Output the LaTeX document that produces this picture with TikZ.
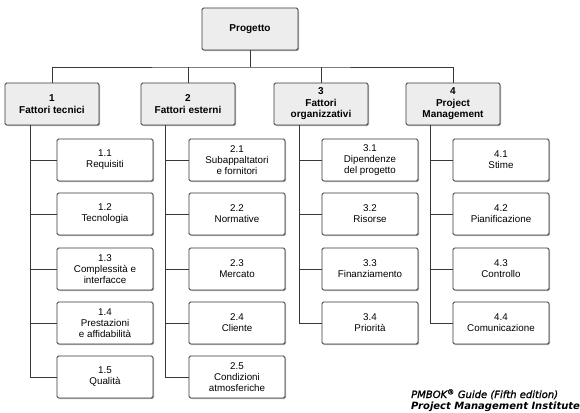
\documentclass[tikz,border=0pt]{standalone}
\usepackage{fontspec}
\setmainfont{Liberation Sans}
\newfontfamily\footfont{DejaVu Sans}
\newfontfamily\footmed[FakeBold=1.2]{DejaVu Sans}
\usetikzlibrary{shadows,calc}
\begin{document}
\begin{tikzpicture}[x=1pt,y=-1pt,
  box/.style={rectangle, rounded corners=1.6pt, draw=black!78, line width=0.9pt,
    align=center, inner sep=1pt,
    drop shadow={shadow xshift=1.1pt, shadow yshift=-1.1pt, opacity=.3, fill=black}},
  headbox/.style={box, fill=gray!14, minimum width=94pt, minimum height=42pt,
    font=\fontsize{10}{11.5}\selectfont\bfseries},
  topbox/.style={headbox, minimum width=96pt},
  leafbox/.style={box, fill=white, minimum width=96pt, minimum height=42pt,
    font=\fontsize{9.8}{11}\selectfont},
  link/.style={draw=black!78, line width=0.9pt}
]
\useasboundingbox (0,0) rectangle (580,412);

\node[topbox] (top) at (250,29) {Progetto};

\node[headbox] (p1) at (52,104) {1\\Fattori tecnici};
\node[headbox] (p2) at (188,104) {2\\Fattori esterni};
\node[headbox] (p3) at (321,104) {3\\Fattori\\organizzativi};
\node[headbox] (p4) at (453,104) {4\\Project\\Management};

\coordinate (hub) at (250,67);
\draw[link] (top.south) -- (hub);
\draw[link] (p1.north) |- (hub) -| (p4.north);
\draw[link] (p2.north) -- (p2.north |- hub);
\draw[link] (p3.north) -- (p3.north |- hub);

% column 1
\node[leafbox] (c11) at (105,160) {1.1\\Requisiti};
\node[leafbox] (c12) at (105,214) {1.2\\Tecnologia};
\node[leafbox] (c13) at (105,269) {1.3\\Complessità e\\interfacce};
\node[leafbox] (c14) at (105,323) {1.4\\Prestazioni\\e affidabilità};
\node[leafbox] (c15) at (105,377) {1.5\\Qualità};
% column 2
\node[leafbox] (c21) at (237,160) {2.1\\Subappaltatori\\e fornitori};
\node[leafbox] (c22) at (237,214) {2.2\\Normative};
\node[leafbox] (c23) at (237,269) {2.3\\Mercato};
\node[leafbox] (c24) at (237,323) {2.4\\Cliente};
\node[leafbox] (c25) at (237,377) {2.5\\Condizioni\\atmosferiche};
% column 3
\node[leafbox] (c31) at (370,160) {3.1\\Dipendenze\\del progetto};
\node[leafbox] (c32) at (370,214) {3.2\\Risorse};
\node[leafbox] (c33) at (370,269) {3.3\\Finanziamento};
\node[leafbox] (c34) at (370,323) {3.4\\Priorità};
% column 4
\node[leafbox] (c41) at (501,160) {4.1\\Stime};
\node[leafbox] (c42) at (501,214) {4.2\\Pianificazione};
\node[leafbox] (c43) at (501,269) {4.3\\Controllo};
\node[leafbox] (c44) at (501,323) {4.4\\Comunicazione};

\coordinate (s1) at ($(p1.south west)+(26,0)$);
\coordinate (s2) at ($(p2.south west)+(25,0)$);
\coordinate (s3) at ($(p3.south west)+(26,0)$);
\coordinate (s4) at ($(p4.south west)+(25,0)$);

\foreach \c in {c11,c12,c13,c14,c15} \draw[link] (s1) |- (\c.west);
\foreach \c in {c21,c22,c23,c24,c25} \draw[link] (s2) |- (\c.west);
\foreach \c in {c31,c32,c33,c34} \draw[link] (s3) |- (\c.west);
\foreach \c in {c41,c42,c43,c44} \draw[link] (s4) |- (\c.west);

\node[anchor=base west, inner sep=0pt, font=\footmed\fontsize{10}{10}\selectfont\itshape] (f1) at (411,398)
  {PMBOK\textsuperscript{®} Guide (Fifth edition)};
\node[anchor=base west, inner sep=0pt, font=\footfont\fontsize{10}{10}\selectfont\bfseries\itshape] (f2) at (411,409)
  {Project Management Institute};
\end{tikzpicture}
\end{document}
